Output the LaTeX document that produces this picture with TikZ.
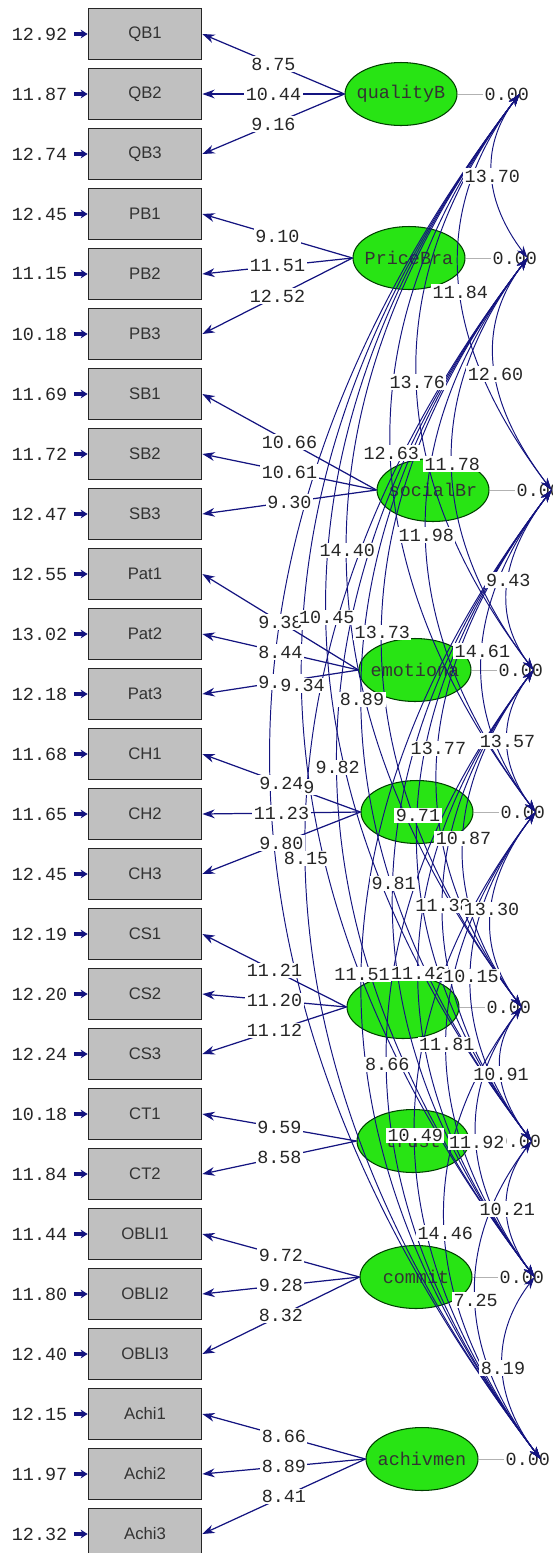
\documentclass[tikz,border=0pt]{standalone}
\usepackage{fontspec}
\setmainfont{Liberation Sans}
\newfontfamily\lisrelmono{Liberation Mono}
\usepackage{xcolor}
\usepackage{tikz}
\usetikzlibrary{shapes,arrows.meta,positioning,calc}

\definecolor{pathblue}{RGB}{20,20,128}
\definecolor{latgreen}{RGB}{40,228,20}
\definecolor{boxgray}{RGB}{192,192,192}

\tikzset{
  obs/.style={draw=black!85, line width=1pt, fill=boxgray, minimum width=2.26cm,
    minimum height=1.02cm, inner sep=0pt, text=black!80, font=\fontsize{9.5}{11}\selectfont},
  lat/.style={ellipse, draw=black!75!green, line width=0.6pt, fill=latgreen,
    minimum width=2.24cm, minimum height=1.26cm, inner xsep=-3pt, inner ysep=0pt, text=black!80,
    font=\lisrelmono\fontsize{10.5}{12}\selectfont},
  tval/.style={fill=white, inner sep=0.8pt, text=black!85,
    font=\lisrelmono\fontsize{10.5}{12}\selectfont},
  errval/.style={tval, anchor=east},
  errarrow/.style={pathblue, line width=2pt, shorten <=3pt, -{Stealth[length=4pt,width=5pt]}},
  load/.style={pathblue, line width=0.7pt, -{Stealth[length=7pt,width=5pt]}},
  cov/.style={pathblue, line width=0.55pt,
    {Stealth[length=7pt,width=4.5pt]}-{Stealth[length=7pt,width=4.5pt]}},
  varline/.style={gray!60, line width=0.5pt},
}

% pairs of latent variables with their t-values
\def\covlist{qualityB/PriceBra/13.70, qualityB/socialBr/11.84, qualityB/emotiona/13.76,
  qualityB/habitL/12.63, qualityB/satisL/14.40, qualityB/trust/10.45, qualityB/commit/9.34,
  PriceBra/socialBr/12.60, PriceBra/emotiona/11.78, PriceBra/habitL/11.98,
  PriceBra/satisL/13.73, PriceBra/trust/8.89, PriceBra/commit/9.82, PriceBra/achivmen/8.15,
  socialBr/emotiona/9.43, socialBr/habitL/14.61, socialBr/satisL/13.77, socialBr/trust/9.71,
  socialBr/commit/9.81, socialBr/achivmen/11.51,
  emotiona/habitL/13.57, emotiona/satisL/10.87, emotiona/trust/11.38, emotiona/commit/11.42,
  emotiona/achivmen/8.66,
  habitL/satisL/13.30, habitL/trust/10.15, habitL/commit/11.81, habitL/achivmen/10.49,
  satisL/trust/10.91, satisL/commit/11.92, satisL/achivmen/14.46,
  trust/commit/10.21, trust/achivmen/7.25, commit/achivmen/8.19}

\begin{document}
\begin{tikzpicture}[x=0.02cm, y=-0.02cm]
    \useasboundingbox (0,0) rectangle (553,1553);

    % Indicators and error variances
    \foreach \n/\e [count=\k from 0] in {QB1/12.92, QB2/11.87, QB3/12.74, PB1/12.45, PB2/11.15,
        PB3/10.18, SB1/11.69, SB2/11.72, SB3/12.47, Pat1/12.55, Pat2/13.02, Pat3/12.18,
        CH1/11.68, CH2/11.65, CH3/12.45, CS1/12.19, CS2/12.20, CS3/12.24, CT1/10.18,
        CT2/11.84, OBLI1/11.44, OBLI2/11.80, OBLI3/12.40, Achi1/12.15, Achi2/11.97, Achi3/12.32}{
        \node[obs] (\n) at (145, {34+60*\k}) {\n};
        \node[errval] (e\n) at (69, {34+60*\k}) {\e};
        \draw[errarrow] (e\n.east) -- (\n.west);
    }

    % Latent variables
    \node[lat] (qualityB) at (401, 94) {qualityB};
    \node[lat] (PriceBra) at (409, 258) {PriceBra};
    \node[lat] (socialBr) at (433, 490) {socialBr};
    \node[lat] (emotiona) at (415, 670) {emotiona};
    \node[lat] (habitL) at (417, 812) {};
    \node[lat] (satisL) at (403, 1007) {};
    \node[lat] (trust) at (413, 1141) {trust};
    \node[lat] (commit) at (416, 1277) {commit};
    \node[lat] (achivmen) at (422, 1459) {achivmen};

    % Fixed variances
    \foreach \l in {qualityB, PriceBra, socialBr, emotiona, habitL, satisL, trust, commit, achivmen}{
        \draw[varline] (\l.east) -- ++(25,0) node[right, inner sep=1pt, text=black!85,
            font=\lisrelmono\fontsize{10.5}{12}\selectfont] {0.00};
        \coordinate (\l-c) at ($(\l.east)+(62,0)$);
    }

    % Covariances
    \foreach \a/\b/\t in \covlist
        \draw[cov] let \p1=(\a-c), \p2=(\b-c), \n1={\y1-\y2} in
            (\p1) .. controls +({-0.253*\n1*1pt},{-0.333*\n1*1pt})
            and +({-0.253*\n1*1pt},{0.333*\n1*1pt}) .. (\p2);
    \draw[cov] let \p1=(qualityB-c), \p2=(achivmen-c), \n1={\y1-\y2} in
        (\p1) .. controls +({-0.253*\n1*1pt},{-0.333*\n1*1pt})
        and +({-0.253*\n1*1pt},{0.333*\n1*1pt}) .. (\p2);

    % Loadings
    \foreach \l/\n/\t in {qualityB/QB1/8.75, qualityB/QB2/10.44, qualityB/QB3/9.16,
        PriceBra/PB1/9.10, PriceBra/PB2/11.51, PriceBra/PB3/12.52,
        socialBr/SB1/10.66, socialBr/SB2/10.61, socialBr/SB3/9.30,
        emotiona/Pat1/9.38, emotiona/Pat2/8.44, emotiona/Pat3/9.\phantom{00},
        habitL/CH1/9.24, habitL/CH2/11.23, habitL/CH3/9.80,
        satisL/CS1/11.21, satisL/CS2/11.20, satisL/CS3/11.12,
        trust/CT1/9.59, trust/CT2/8.58,
        commit/OBLI1/9.72, commit/OBLI2/9.28, commit/OBLI3/8.32,
        achivmen/Achi1/8.66, achivmen/Achi2/8.89, achivmen/Achi3/8.41}
        \draw[load] (\l.west) -- node[tval] {\t} (\n.east);

    % t-values of the covariances
    \foreach \a/\b/\t in \covlist
        \path let \p1=(\a-c), \p2=(\b-c), \n1={\y1-\y2} in
            (\p1) .. controls +({-0.253*\n1*1pt},{-0.333*\n1*1pt})
            and +({-0.253*\n1*1pt},{0.333*\n1*1pt}) .. (\p2) node[tval, pos=0.5] {\t};
    \node[tval] (covnine) at (309, 787) {9};
\end{tikzpicture}
\end{document}
